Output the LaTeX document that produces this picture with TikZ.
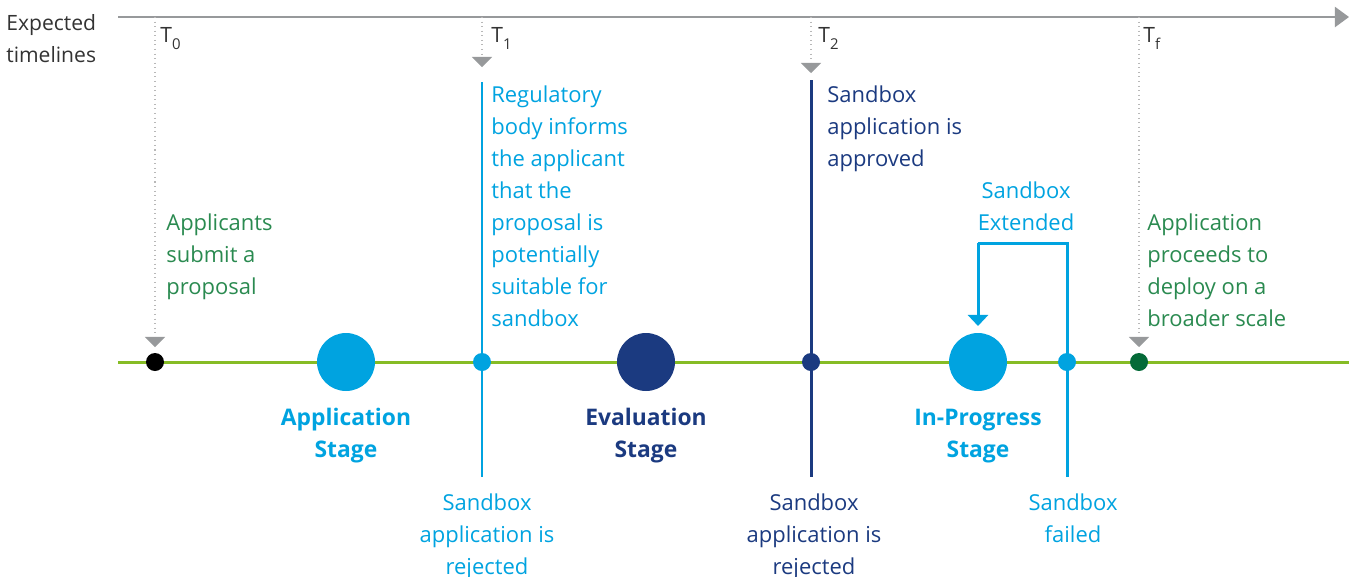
\documentclass[tikz,border=0pt]{standalone}
\usepackage{fontspec}
\setmainfont{Open Sans}
\usetikzlibrary{arrows.meta}
\usetikzlibrary{positioning}

\definecolor{sbblue}{HTML}{00A3E0}
\definecolor{sbnavy}{HTML}{1B3A80}
\definecolor{sbgreen}{HTML}{86BC25}
\definecolor{sbtextgreen}{HTML}{2A8A50}
\definecolor{sbdkgreen}{HTML}{046A38}
\definecolor{sbgray}{HTML}{97999B}
\definecolor{sbdots}{HTML}{B8B8B8}

\begin{document}
\begin{tikzpicture}[
    x = 0.02cm, y = -0.02cm,
    >=latex,
    txt/.style = {inner sep = 0pt, font = \fontsize{12.5}{18.2}\selectfont},
    stagetxt/.style = {txt, align = center, font = \fontsize{13}{18.2}\selectfont\bfseries},
    tlabel/.style = {inner sep = 0pt, anchor = base west, text = black!80, font = \fontsize{12}{14}\selectfont},
    dot/.style = {circle, inner sep = 0pt, minimum size = 0.36cm},
    stage/.style = {circle, inner sep = 0pt, minimum size = 1.16cm},
    vline/.style = {line width = 1.7pt},
    tmark/.style = {sbdots, dotted, line width = 0.6pt,
        -{Triangle[length = 5.7pt, width = 11.4pt, sbgray]}},
  ]
  \useasboundingbox (0,0) rectangle (1349,576);

  % time axis
  \coordinate (axis start) at (118,17);
  \coordinate (axis end) at (1349,17);
  \draw[sbgray, line width = 1.2pt, -{Triangle[length = 8pt, width = 11.4pt]}]
    (axis start) -- (axis end);
  \node[txt, align = left, anchor = base west, text = black!80,
    font = \fontsize{12}{18.2}\selectfont] (expected) at (6,62) {Expected\\timelines};

  % markers T0 .. Tf
  \coordinate (t0) at (155,17);
  \coordinate (t1) at (482,17);
  \coordinate (t2) at (811,17);
  \coordinate (tf) at (1139,17);
  \coordinate (t0 tip) at (155,347);
  \coordinate (t1 tip) at (482,67);
  \coordinate (t2 tip) at (811,73);
  \coordinate (tf tip) at (1139,347);
  \draw[tmark] (t0) -- (t0 tip);
  \draw[tmark] (t1) -- (t1 tip);
  \draw[tmark] (t2) -- (t2 tip);
  \draw[tmark] (tf) -- (tf tip);
  \node[tlabel] (lt0) at (160,42) {T\raisebox{-4.5pt}{\fontsize{8.5}{10}\selectfont 0}};
  \node[tlabel] (lt1) at (491,42) {T\raisebox{-4.5pt}{\fontsize{8.5}{10}\selectfont 1}};
  \node[tlabel] (lt2) at (818,42) {T\raisebox{-4.5pt}{\fontsize{8.5}{10}\selectfont 2}};
  \node[tlabel] (ltf) at (1143,42) {T\raisebox{-4.5pt}{\fontsize{8.5}{10}\selectfont f}};

  % vertical decision lines
  \coordinate (reg top) at (482,82);
  \coordinate (reg bottom) at (482,477);
  \coordinate (appr top) at (811,80);
  \coordinate (appr bottom) at (811,477);
  \coordinate (fail bottom) at (1067,477);
  \coordinate (ext right) at (1067,243);
  \coordinate (ext left) at (978,243);
  \coordinate (ext tip) at (978,326);
  \draw[sbblue, vline] (reg top) -- (reg bottom);
  \draw[sbnavy, vline] (appr top) -- (appr bottom);
  \draw[sbblue, vline] (fail bottom) -- (ext right) -- (ext left);
  \draw[sbblue, vline, -{Triangle[length = 6.3pt, width = 11.4pt]}] (ext left) -- (ext tip);

  % green timeline
  \coordinate (line start) at (118,362);
  \coordinate (line end) at (1349,362);
  \draw[sbgreen, line width = 1.7pt] (line start) -- (line end);

  % dots and stages
  \node[dot, fill = black] (d0) at (155,362) {};
  \node[dot, fill = sbblue] (d1) at (482,362) {};
  \node[dot, fill = sbnavy] (d2) at (811,362) {};
  \node[dot, fill = sbblue] (d3) at (1067,362) {};
  \node[dot, fill = sbdkgreen] (df) at (1139,362) {};
  \node[stage, fill = sbblue] (app) at (346,362) {};
  \node[stage, fill = sbnavy] (eval) at (646,362) {};
  \node[stage, fill = sbblue] (prog) at (978,362) {};

  % texts above (anchored at the baseline of the last line)
  \node[txt, align = left, anchor = base west, text = sbtextgreen] (submit) at (166,294)
    {Applicants\\submit a\\proposal};
  \node[txt, align = left, anchor = base west, text = sbblue] (inform) at (491,326)
    {Regulatory\\body informs\\the applicant\\that the\\proposal is\\potentially\\suitable for\\sandbox};
  \node[txt, align = left, anchor = base west, text = sbnavy] (approved) at (827,166)
    {Sandbox\\application is\\approved};
  \node[txt, align = center, anchor = base, text = sbblue] (extended) at (1026,230)
    {Sandbox\\Extended};
  \node[txt, align = left, anchor = base west, text = sbtextgreen] (deploy) at (1147,326)
    {Application\\proceeds to\\deploy on a\\broader scale};

  % stage names
  \node[stagetxt, anchor = base, text = sbblue] (app name) at (346,457) {Application\\Stage};
  \node[stagetxt, anchor = base, text = sbnavy] (eval name) at (646,457) {Evaluation\\Stage};
  \node[stagetxt, anchor = base, text = sbblue] (prog name) at (978,457) {In-Progress\\Stage};

  % texts below
  \node[txt, align = center, anchor = base, text = sbblue] (rej1) at (487,574)
    {Sandbox\\application is\\rejected};
  \node[txt, align = center, anchor = base, text = sbnavy] (rej2) at (814,574)
    {Sandbox\\application is\\rejected};
  \node[txt, align = center, anchor = base, text = sbblue] (failed) at (1073,542)
    {Sandbox\\failed};
\end{tikzpicture}
\end{document}
